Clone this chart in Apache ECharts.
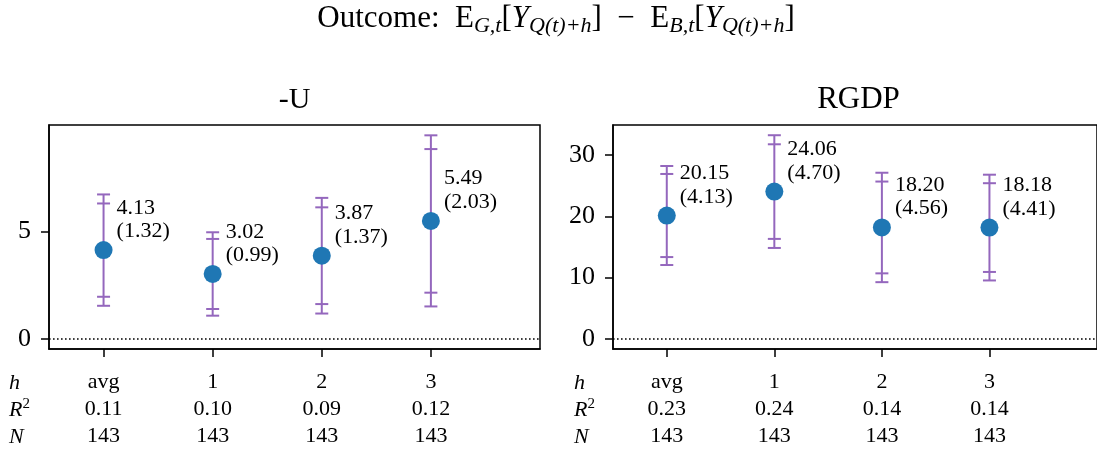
<!DOCTYPE html>
<html>
<head>
<meta charset="utf-8">
<title>Outcome: E_G,t − E_B,t</title>
<script src="https://cdn.jsdelivr.net/npm/echarts@6/dist/echarts.min.js"></script>
<style>
  html, body { margin: 0; padding: 0; background: #fff; }
  #chart { width: 1097px; height: 451px; }
</style>
</head>
<body>
<div id="chart"></div>
<script>
// Horizons shown on both panels
const categories = ['avg', '1', '2', '3'];
const xTicks = [0, 1, 2, 3];

// -U panel: point estimates, standard errors, 90% and 95% intervals
const uEst  = [4.13, 3.02, 3.87, 5.49];
const uSe   = [1.32, 0.99, 1.37, 2.03];
const uLo95 = [1.54, 1.08, 1.18, 1.51];
const uLo90 = [1.96, 1.39, 1.62, 2.15];
const uHi90 = [6.30, 4.65, 6.12, 8.83];
const uHi95 = [6.72, 4.96, 6.56, 9.47];
const uR2   = ['0.11', '0.10', '0.09', '0.12'];
const uN    = [143, 143, 143, 143];
const uTicks = [0, 5];

// RGDP panel
const gEst  = [20.15, 24.06, 18.20, 18.18];
const gSe   = [4.13, 4.70, 4.56, 4.41];
const gLo95 = [12.06, 14.85, 9.26, 9.54];
const gLo90 = [13.36, 16.33, 10.70, 10.93];
const gHi90 = [26.94, 31.79, 25.70, 25.43];
const gHi95 = [28.24, 33.27, 27.14, 26.82];
const gR2   = ['0.23', '0.24', '0.14', '0.14'];
const gN    = [143, 143, 143, 143];
const gTicks = [0, 10, 20, 30];

const FONT = '"Liberation Serif", "DejaVu Serif", serif';
const PURPLE = '#9467bd';
const BLUE = '#1f77b4';

const chart = echarts.init(document.getElementById('chart'), null, { renderer: 'canvas' });

function errorBarSeries(idx, lo95, lo90, hi90, hi95) {
  return {
    type: 'custom',
    xAxisIndex: idx,
    yAxisIndex: idx,
    z: 2,
    silent: true,
    data: lo95.map((v, i) => [i, v, lo90[i], hi90[i], hi95[i]]),
    renderItem: function (params, api) {
      const x = api.value(0);
      const pts = [1, 2, 3, 4].map(k => api.coord([x, api.value(k)]));
      const cap = 6.5;
      const style = { stroke: PURPLE, lineWidth: 2 };
      const children = [{
        type: 'line',
        shape: { x1: pts[0][0], y1: pts[0][1], x2: pts[3][0], y2: pts[3][1] },
        style: style
      }];
      pts.forEach(p => children.push({
        type: 'line',
        shape: { x1: p[0] - cap, y1: p[1], x2: p[0] + cap, y2: p[1] },
        style: style
      }));
      return { type: 'group', children: children };
    }
  };
}

function pointSeries(idx, est, se) {
  return {
    type: 'scatter',
    xAxisIndex: idx,
    yAxisIndex: idx,
    z: 3,
    symbol: 'circle',
    symbolSize: 18,
    itemStyle: { color: BLUE, opacity: 1 },
    data: est.map((v, i) => [i, v]),
    label: {
      show: true,
      position: [22, 2],
      align: 'left',
      verticalAlign: 'bottom',
      fontFamily: FONT,
      fontSize: 22,
      lineHeight: 23.5,
      color: '#000',
      formatter: p => est[p.dataIndex].toFixed(2) + '\n(' + se[p.dataIndex].toFixed(2) + ')'
    },
    emphasis: { disabled: true },
    markLine: {
      silent: true,
      symbol: ['none', 'none'],
      label: { show: false },
      lineStyle: { color: '#000', width: 1.6, type: [1.6, 2.4] },
      data: [{ yAxis: 0 }]
    }
  };
}

function xAxis(idx, r2, n) {
  return {
    type: 'value',
    gridIndex: idx,
    min: -0.5,
    max: 4,
    splitLine: { show: false },
    axisLine: { show: true, onZero: false, lineStyle: { color: '#000', width: 1.5 } },
    axisTick: { show: true, customValues: xTicks, length: 8, lineStyle: { color: '#000', width: 1.5 } },
    axisLabel: {
      customValues: xTicks,
      margin: 20,
      fontFamily: FONT,
      fontSize: 22,
      lineHeight: 27,
      color: '#000',
      formatter: v => {
        const i = Math.round(v);
        return categories[i] + '\n' + r2[i] + '\n' + n[i];
      }
    }
  };
}

function yAxis(idx, min, max, ticks) {
  return {
    type: 'value',
    gridIndex: idx,
    min: min,
    max: max,
    splitLine: { show: false },
    axisLine: { show: true, onZero: false, lineStyle: { color: '#000', width: 1.5 } },
    axisTick: { show: true, customValues: ticks, length: 8, lineStyle: { color: '#000', width: 1.5 } },
    axisLabel: {
      customValues: ticks,
      margin: 18,
      fontFamily: FONT,
      fontSize: 26,
      color: '#000'
    }
  };
}

function rowHeaders(x) {
  const base = { fontFamily: FONT, fontSize: 22, fill: '#000', align: 'left', verticalAlign: 'middle' };
  return [
    { type: 'text', x: x, y: 383, style: Object.assign({}, base, { text: 'h', fontStyle: 'italic' }) },
    { type: 'text', x: x, y: 410, style: Object.assign({}, base, {
        text: '{i|R}{s|2}',
        rich: {
          i: { fontFamily: FONT, fontSize: 22, fontStyle: 'italic', lineHeight: 27, color: '#000' },
          s: { fontFamily: FONT, fontSize: 15, lineHeight: 17, verticalAlign: 'top', color: '#000' }
        }
      }) },
    { type: 'text', x: x, y: 437, style: Object.assign({}, base, { text: 'N', fontStyle: 'italic' }) }
  ];
}

const supRich = {
  r: { fontFamily: FONT, fontSize: 31, lineHeight: 37, color: '#000' },
  i: { fontFamily: FONT, fontSize: 31, fontStyle: 'italic', lineHeight: 37, color: '#000' },
  s: { fontFamily: FONT, fontSize: 22, fontStyle: 'italic', lineHeight: 22, verticalAlign: 'bottom', color: '#000' }
};

const option = {
  animation: false,
  backgroundColor: '#fff',
  grid: [
    { left: 49, top: 125, width: 491, height: 224, show: true, borderColor: '#000', borderWidth: 1.5, backgroundColor: 'transparent' },
    { left: 613, top: 125, width: 491, height: 224, show: true, borderColor: '#000', borderWidth: 1.5, backgroundColor: 'transparent' }
  ],
  xAxis: [xAxis(0, uR2, uN), xAxis(1, gR2, gN)],
  yAxis: [yAxis(0, -0.47, 9.95, uTicks), yAxis(1, -1.66, 34.94, gTicks)],
  series: [
    errorBarSeries(0, uLo95, uLo90, uHi90, uHi95),
    pointSeries(0, uEst, uSe),
    errorBarSeries(1, gLo95, gLo90, gHi90, gHi95),
    pointSeries(1, gEst, gSe)
  ],
  graphic: [
    {
      type: 'text', x: 556, y: 19,
      style: {
        text: '{r|Outcome:  E}{s|G,t}{r|[}{i|Y}{s|Q(t)+h}{r|]  −  E}{s|B,t}{r|[}{i|Y}{s|Q(t)+h}{r|]}',
        rich: supRich,
        align: 'center', verticalAlign: 'middle'
      }
    },
    { type: 'text', x: 294.5, y: 100, style: { text: '-U', fontFamily: FONT, fontSize: 30, fill: '#000', align: 'center', verticalAlign: 'middle' } },
    { type: 'text', x: 858.5, y: 100, style: { text: 'RGDP', fontFamily: FONT, fontSize: 31, fill: '#000', align: 'center', verticalAlign: 'middle' } }
  ].concat(rowHeaders(9), rowHeaders(574))
};

chart.setOption(option);
</script>
</body>
</html>
